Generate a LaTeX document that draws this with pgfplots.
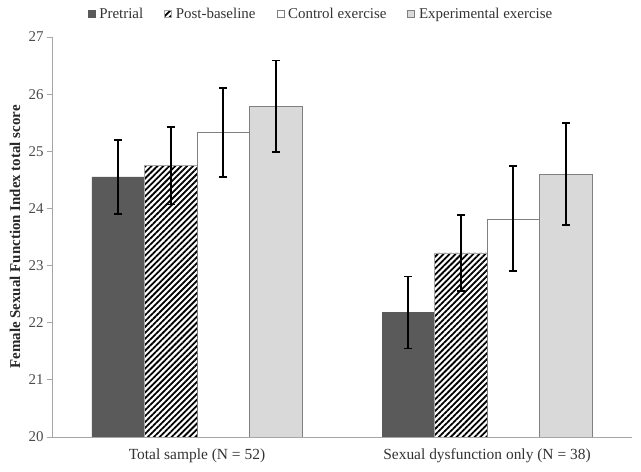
\documentclass[border=0pt]{standalone}
\usepackage{pgfplots}
\pgfplotsset{compat=1.18}
\usepackage{fontspec}
\setmainfont{Liberation Serif}
\usetikzlibrary{patterns.meta}
\definecolor{axgray}{HTML}{A6A6A6}
\definecolor{darkbar}{HTML}{5A5A5A}
\definecolor{lightbar}{HTML}{D9D9D9}
\begin{document}
\begin{tikzpicture}[x=1bp,y=1bp]
\begin{axis}[
  name=ax,
  scale only axis,
  width=580bp, height=400bp,
  ybar=0pt, bar width=52.5bp,
  xmin=-0.5, xmax=1.5,
  ymin=20, ymax=27,
  ytick={20,21,...,27},
  xtick=data,
  xticklabels={Total sample (N = 52), Sexual dysfunction only (N = 38)},
  axis x line*=bottom, axis y line*=left,
  axis line style={axgray, line width=0.8bp, -},
  x tick style={draw=none},
  y tick style={axgray, line width=0.8bp},
  tick align=outside, major tick length=5bp,
  /pgf/number format/assume math mode=true,
  tick label style={font=\fontsize{15}{17}\selectfont, text=black!70},
  xticklabel style={font=\fontsize{15.5}{17}\selectfont, text=black!80, yshift=-3bp},
  ylabel={\textbf{Female Sexual Function Index total score}},
  ylabel style={font=\fontsize{15}{17}\selectfont, text=black!85, at={(axis description cs:-0.0638,0.5)}, anchor=center},
  legend style={draw=none, fill=none, legend columns=-1, at={(axis description cs:0.462,1.0575)}, anchor=center,
    font=\fontsize{15}{17}\selectfont, text=black!80, inner sep=0pt,
    nodes={inner sep=0pt},
    /tikz/every odd column/.append style={column sep=4bp},
    /tikz/every even column/.append style={column sep=21bp}},
  legend image code/.code={\draw[#1, bar width=0, line width=0.6bp] (0bp,-3.5bp) rectangle (7bp,3.5bp);},
  error bars/y dir=both, error bars/y explicit,
  error bars/error bar style={black, line width=2.2bp},
  error bars/error mark options={rotate=90, black, line width=1.6bp, mark size=4bp},
]
\addplot[fill=darkbar, draw=darkbar] coordinates {(0,24.55) +- (0,0.65) (1,22.18) +- (0,0.63)};
\addplot[pattern={Lines[angle=45,distance=4.2bp,line width=1.8bp]}, pattern color=black, draw=axgray] coordinates {(0,24.75) +- (0,0.68) (1,23.22) +- (0,0.66)};
\addplot[fill=white, draw=gray] coordinates {(0,25.33) +- (0,0.78) (1,23.82) +- (0,0.92)};
\addplot[fill=lightbar, draw=gray] coordinates {(0,25.79) +- (0,0.80) (1,24.60) +- (0,0.89)};
\legend{Pretrial, Post-baseline, Control exercise, Experimental exercise}
\end{axis}
\pgfresetboundingbox
\path ([shift={(-52bp,-35bp)}]ax.south west) rectangle ([shift={(9bp,37bp)}]ax.north east);
\end{tikzpicture}
\end{document}
